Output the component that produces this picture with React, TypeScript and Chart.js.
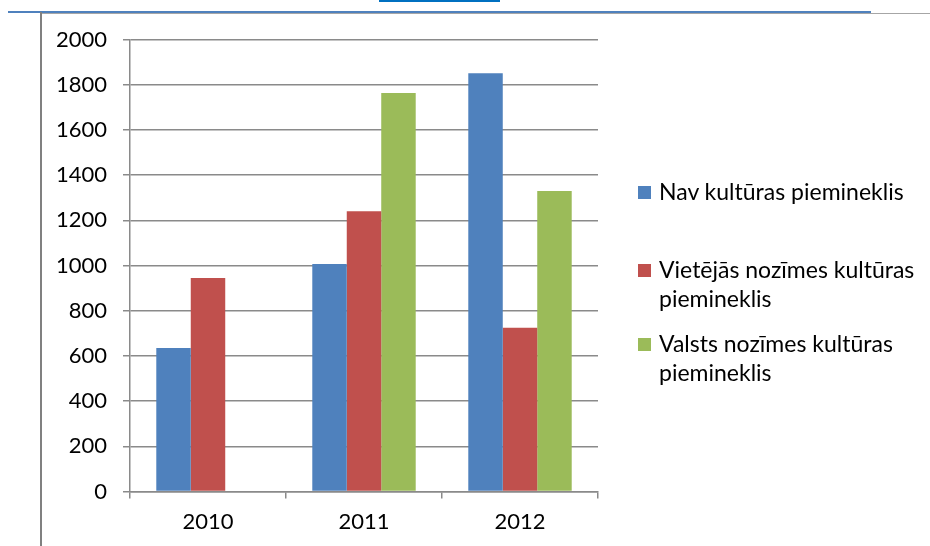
import React, { useEffect, useRef } from "react";
import { Chart, registerables } from "chart.js";

Chart.register(...registerables);

const categories = ["2010", "2011", "2012"];
const seriesLabels = [
  "Nav kultūras piemineklis",
  "Vietējās nozīmes kultūras piemineklis",
  "Valsts nozīmes kultūras piemineklis",
];
const navValues = [635, 1007, 1851];
const vietejasValues = [945, 1240, 725];
const valstsValues: (number | null)[] = [null, 1763, 1330];
const seriesColors = ["#4f81bd", "#c0504d", "#9bbb59"];
const yMin = 0;
const yMax = 2000;
const yStep = 200;

const FONT = "Lato, 'Open Sans', sans-serif";
const GRID = "#8a8a8a";

export default function App() {
  const ref = useRef<HTMLCanvasElement | null>(null);

  useEffect(() => {
    if (!ref.current) return;
    const chart = new Chart(ref.current, {
      type: "bar",
      data: {
        labels: categories,
        datasets: [navValues, vietejasValues, valstsValues].map((d, i) => ({
          label: seriesLabels[i],
          data: d,
          backgroundColor: seriesColors[i],
          borderWidth: 0,
          categoryPercentage: 0.663,
          barPercentage: 1,
        })),
      },
      options: {
        responsive: false,
        animation: false,
        devicePixelRatio: 1,
        layout: { padding: { left: 0, right: 332, top: 39.5, bottom: 0 } },
        plugins: { legend: { display: false }, tooltip: { enabled: false } },
        scales: {
          x: {
            grid: {
              display: true,
              drawOnChartArea: false,
              drawTicks: true,
              tickLength: 7,
              color: GRID,
              lineWidth: 1.5,
              offset: true,
            },
            border: { display: true, color: GRID, width: 1.5 },
            ticks: { color: "#000", font: { family: FONT, size: 22 }, padding: 10 },
            afterFit: (s: any) => {
              s.height = 54.5;
            },
          },
          y: {
            min: yMin,
            max: yMax,
            grid: {
              color: GRID,
              lineWidth: 1.5,
              tickLength: 7,
            },
            border: { display: true, color: GRID, width: 1.5 },
            ticks: {
              stepSize: yStep,
              color: "#000",
              font: { family: FONT, size: 22 },
              padding: 16,
              callback: (v: any) => String(v),
            },
            afterFit: (s: any) => {
              s.width = 130;
            },
          },
        },
      },
    });
    return () => chart.destroy();
  }, []);

  const legendTops = [177, 255, 329];

  return (
    <div style={{ position: "absolute", left: 0, top: 0, width: 930, height: 546, background: "#fff", overflow: "hidden" }}>
      <div style={{ position: "absolute", left: 379, top: 0, width: 121, height: 2, background: "#0070c0" }} />
      <div style={{ position: "absolute", left: 8, top: 11, width: 863, height: 2, background: "#4f81bd" }} />
      <div style={{ position: "absolute", left: 41, top: 13, width: 889, height: 1, background: "#a6a6a6" }} />
      <div style={{ position: "absolute", left: 40, top: 12, width: 2, height: 534, background: "#808080" }} />
      <canvas ref={ref} width={930} height={546} style={{ position: "absolute", left: 0, top: 0, width: 930, height: 546 }} />
      {seriesLabels.map((lab, i) => (
        <div key={i} style={{ position: "absolute", left: 638, top: legendTops[i], width: 292 }}>
          <div style={{ position: "absolute", left: 0, top: 9, width: 13, height: 13, background: seriesColors[i] }} />
          <div style={{ position: "absolute", left: 21, top: 0, width: 270, fontFamily: FONT, fontSize: 23, lineHeight: "29px", color: "#000" }}>
            {lab}
          </div>
        </div>
      ))}
    </div>
  );
}
